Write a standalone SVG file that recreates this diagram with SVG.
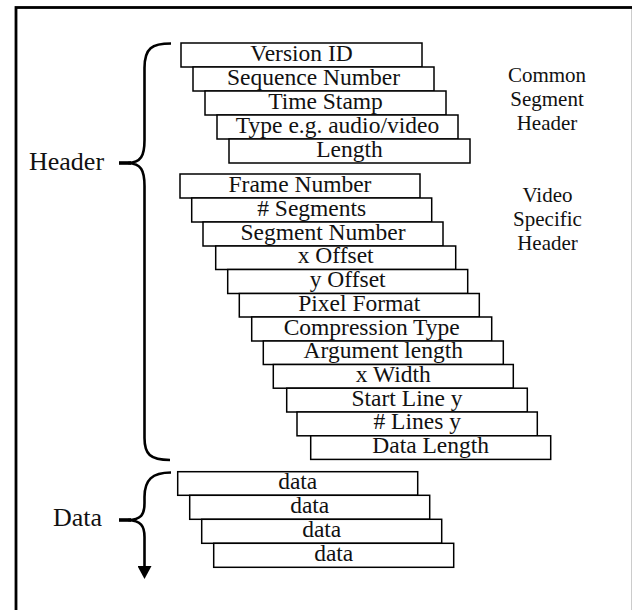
<svg xmlns="http://www.w3.org/2000/svg" width="632" height="610" viewBox="0 0 632 610">
<style>
.b rect{fill:#fff;stroke:#000;stroke-width:1.5}
.b text{font-family:"Liberation Serif","Times New Roman",serif;font-size:23.5px;text-anchor:middle;fill:#111}
.lbl{font-family:"Liberation Serif","Times New Roman",serif;fill:#111}
.side{font-size:21px;text-anchor:middle}
.big{font-size:26px}
.brace{fill:none;stroke:#000;stroke-width:2.6;stroke-linecap:butt}
</style>
<defs>
<marker id="ah" markerWidth="13" markerHeight="14" refX="0" refY="7" orient="auto" markerUnits="userSpaceOnUse" viewBox="0 0 13 14">
<path d="M0,0 L13,7 L0,14 Z" fill="#000"/>
</marker>
</defs>
<rect x="16" y="7.5" width="617.2" height="620" fill="#fff" stroke="#000" stroke-width="2.8"/>

<g id="common">
<g id="n-version" class="b"><rect x="181" y="43" width="241" height="24"/><text x="301.5" y="60.5">Version ID</text></g>
<g id="n-seq" class="b"><rect x="193" y="67" width="241" height="24"/><text x="313.5" y="84.5">Sequence Number</text></g>
<g id="n-time" class="b"><rect x="205" y="91" width="241" height="24"/><text x="325.5" y="108.5">Time Stamp</text></g>
<g id="n-type" class="b"><rect x="217" y="115" width="241" height="24"/><text x="337.5" y="132.5">Type e.g. audio/video</text></g>
<g id="n-length" class="b"><rect x="229" y="139" width="241" height="24"/><text x="349.5" y="156.5">Length</text></g>
</g>

<g id="video">
<g id="n-frame" class="b"><rect x="180" y="174" width="240" height="24"/><text x="300" y="191.5">Frame Number</text></g>
<g id="n-segs" class="b"><rect x="191.7" y="198" width="240" height="24"/><text x="311.7" y="215.5"># Segments</text></g>
<g id="n-segnum" class="b"><rect x="203" y="222" width="240" height="24"/><text x="323" y="239.5">Segment Number</text></g>
<g id="n-xoff" class="b"><rect x="215.7" y="246" width="240" height="23.5"/><text x="335.7" y="263">x Offset</text></g>
<g id="n-yoff" class="b"><rect x="227.7" y="269.5" width="240" height="24"/><text x="347.7" y="287">y Offset</text></g>
<g id="n-pix" class="b"><rect x="239.3" y="293.5" width="240" height="23.5"/><text x="359.3" y="310.5">Pixel Format</text></g>
<g id="n-comp" class="b"><rect x="251.7" y="317" width="240" height="24"/><text x="371.7" y="334.5">Compression Type</text></g>
<g id="n-arg" class="b"><rect x="263.3" y="341" width="240" height="23.5"/><text x="383.3" y="358">Argument length</text></g>
<g id="n-xw" class="b"><rect x="273.3" y="364.5" width="240" height="23.7"/><text x="393.3" y="381.7">x Width</text></g>
<g id="n-start" class="b"><rect x="286.7" y="388.2" width="240.6" height="23.8"/><text x="407" y="405.5">Start Line y</text></g>
<g id="n-lines" class="b"><rect x="297" y="412" width="240.3" height="23.8"/><text x="417.2" y="429.3"># Lines y</text></g>
<g id="n-dlen" class="b"><rect x="310.7" y="435.8" width="240" height="23.6"/><text x="430.7" y="453">Data Length</text></g>
</g>

<g id="data">
<g id="n-d1" class="b"><rect x="177.7" y="471.7" width="240" height="23.6"/><text x="297.7" y="488.8">data</text></g>
<g id="n-d2" class="b"><rect x="189.7" y="495.3" width="240" height="24"/><text x="309.7" y="512.8">data</text></g>
<g id="n-d3" class="b"><rect x="201.7" y="519.3" width="240" height="24"/><text x="321.7" y="536.8">data</text></g>
<g id="n-d4" class="b"><rect x="213.7" y="543.3" width="240" height="24"/><text x="333.7" y="560.8">data</text></g>
</g>

<g id="labels" class="lbl">
<text class="side" x="547" y="81.7">Common</text>
<text class="side" x="547" y="106">Segment</text>
<text class="side" x="547" y="130">Header</text>
<text class="side" x="547.5" y="201.7">Video</text>
<text class="side" x="547.5" y="225.7">Specific</text>
<text class="side" x="547.5" y="250">Header</text>
<text class="big" x="29" y="170">Header</text>
<text class="big" x="53" y="526">Data</text>
</g>

<g id="connectors">
<path class="brace" d="M171,43.5 C152,43.5 144.5,48 144.5,68 L144.5,140 C144.5,156 141,162.5 128,163 M128,163 C141,163.5 144.5,170 144.5,186 L144.5,438 C144.5,454 150,460 170,460"/>
<line x1="119" y1="163" x2="131" y2="163" stroke="#000" stroke-width="3.6"/>
<path class="brace" d="M171,472.5 C152,472.5 144.5,480 144.5,497 L144.5,503 C144.5,515 141,519.5 128,520 M128,520 C141,520.5 144.5,526 144.5,537 L144.5,566" marker-end="url(#ah)"/>
<line x1="119" y1="520" x2="131" y2="520" stroke="#000" stroke-width="3.6"/>
</g>
</svg>
